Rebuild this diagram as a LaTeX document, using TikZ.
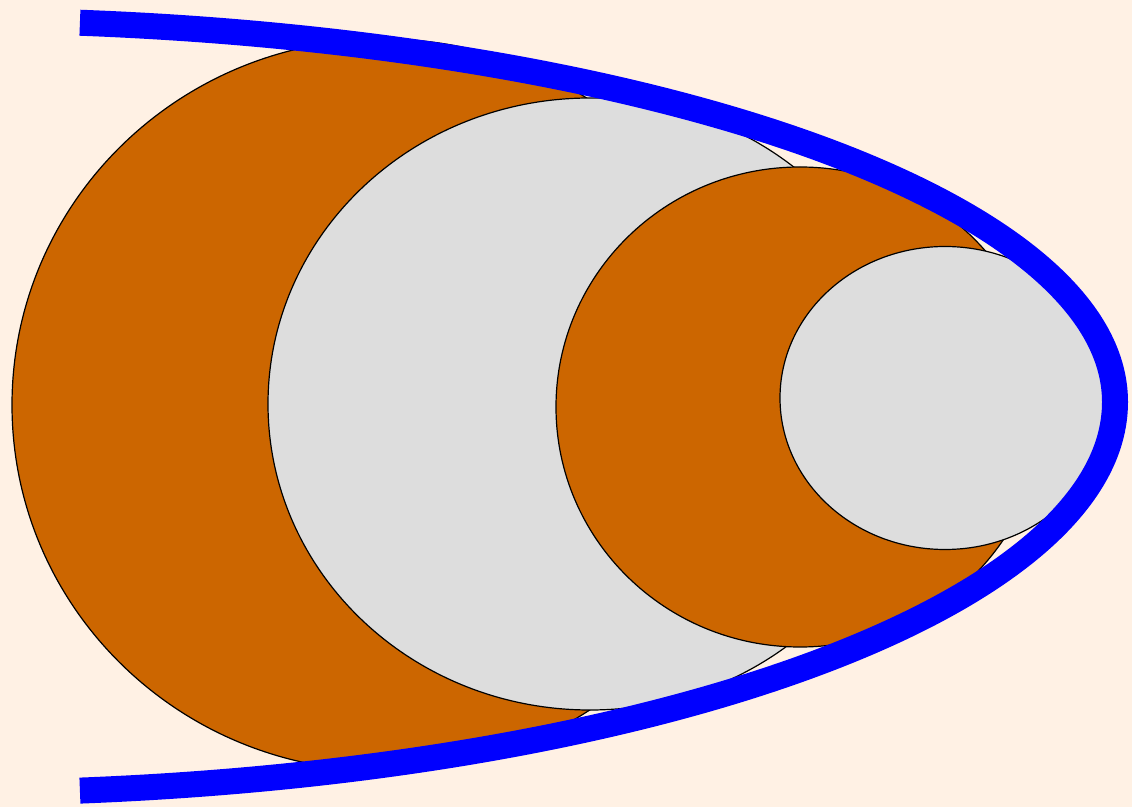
\documentclass[tikz,border=0pt]{standalone}
\definecolor{peach}{RGB}{255,241,228}
\definecolor{disk}{RGB}{204,102,0}
\definecolor{pale}{RGB}{221,221,221}
\tikzset{
  x=1pt, y=1pt,
  diskA/.style={fill=disk, draw=black, line width=1.2pt},
  diskB/.style={fill=pale, draw=black, line width=1.2pt},
  rim/.style={draw=blue, line width=26pt, line cap=butt}
}
\begin{document}
\begin{tikzpicture}
  \shade[top color=peach, middle color=white, bottom color=peach] (0,0) rectangle (1132,806);
  \useasboundingbox (0,0) rectangle (1132,806);
  % circles
  \coordinate (c1) at (384,401);
  \coordinate (c2) at (590,402);
  \coordinate (c3) at (800,399);
  \coordinate (c4) at (945,408);
  \path[diskA] (c1) ellipse [x radius=372, y radius=366];
  \path[diskB] (c2) ellipse [x radius=322, y radius=306];
  \path[diskA] (c3) ellipse [x radius=244, y radius=240];
  \path[diskB] (c4) ellipse [x radius=165, y radius=151.5];
  % blue curve
  \coordinate (vtx) at (1115,404);
  \coordinate (ctr) at (-54,404);
  \draw[rim] (vtx) arc [start angle=0, end angle=83.42, x radius=1169, y radius=381.8];
  \draw[rim] (vtx) arc [start angle=0, end angle=-83.42, x radius=1169, y radius=391.2];
\end{tikzpicture}
\end{document}
